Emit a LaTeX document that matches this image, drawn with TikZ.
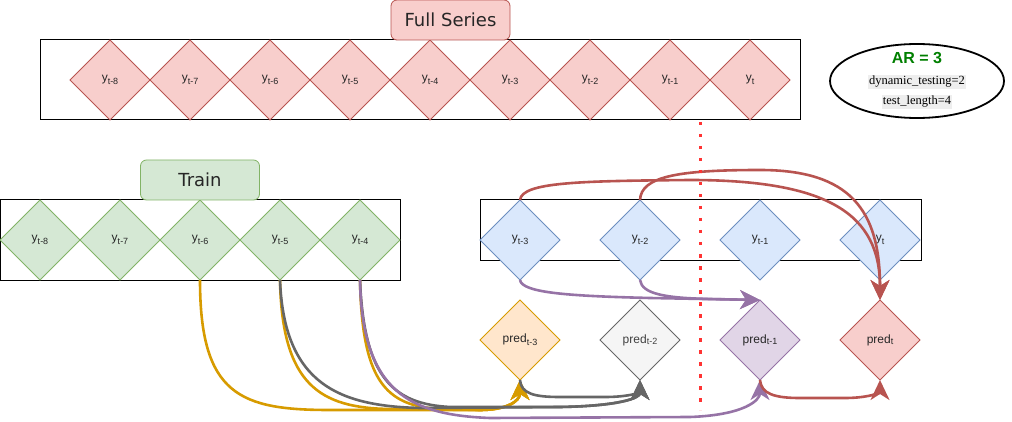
\documentclass[tikz,border=0pt]{standalone}
\usepackage{fontspec}
\setmainfont{Liberation Sans}
\newfontfamily\serifx{Liberation Serif}
\newfontfamily\labfont{DejaVu Sans}
\usetikzlibrary{shapes.geometric,arrows.meta}
\definecolor{rfill}{HTML}{F8CECC}\definecolor{rdraw}{HTML}{B85450}
\definecolor{gfill}{HTML}{D5E8D4}\definecolor{gdraw}{HTML}{82B366}
\definecolor{bfill}{HTML}{DAE8FC}\definecolor{bdraw}{HTML}{6C8EBF}
\definecolor{ofill}{HTML}{FFE6CC}\definecolor{odraw}{HTML}{D79B00}
\definecolor{kfill}{HTML}{F5F5F5}\definecolor{kdraw}{HTML}{666666}
\definecolor{pfill}{HTML}{E1D5E7}\definecolor{pdraw}{HTML}{9673A6}
\definecolor{dotred}{HTML}{FF3333}
\definecolor{argreen}{HTML}{007F00}
\definecolor{txtbg}{HTML}{EEEEEE}
\newcommand{\ylab}[1]{y\raisebox{-0.45ex}{\fontsize{9}{9}\selectfont #1}}
\newcommand{\plab}[2]{pred\raisebox{#2}{\fontsize{9}{9}\selectfont #1}}
\tikzset{
  dia/.style={diamond, aspect=1, minimum width=80pt, minimum height=80pt, inner sep=0pt, outer sep=0pt, line width=0.8pt, font=\fontsize{12}{12}\selectfont, text=black!85},
  rdia/.style={dia, fill=rfill, draw=rdraw},
  gdia/.style={dia, fill=gfill, draw=gdraw},
  bdia/.style={dia, fill=bfill, draw=bdraw},
  odia/.style={dia, fill=ofill, draw=odraw},
  kdia/.style={dia, fill=kfill, draw=kdraw, text=black!75},
  pdia/.style={dia, fill=pfill, draw=pdraw},
  frame/.style={draw=black, line width=1pt, fill=white, anchor=north west, inner sep=0pt, outer sep=0pt},
  tag/.style={rectangle, rounded corners=6pt, minimum width=119pt, minimum height=40pt, line width=0.8pt, font=\labfont\fontsize{18}{18}\selectfont, text=black!85},
  conn/.style={line width=2.6pt, -{Stealth[length=20pt,width=19pt,inset=6pt]}},
  oc/.style={conn, draw=odraw},
  gc/.style={conn, draw=kdraw},
  pc/.style={conn, draw=pdraw},
  rc/.style={conn, draw=rdraw},
  dotline/.style={draw=dotred, line width=3pt, dash pattern=on 3.5pt off 8.5pt},
  info/.style={font=\serifx\fontsize{12.5}{12.5}\selectfont, fill=txtbg, inner sep=1pt}
}
\begin{document}
\begin{tikzpicture}[x=1pt,y=-1pt]
\useasboundingbox (0,0) rectangle (1012,422);
% frames
\node[frame, minimum width=760pt, minimum height=80pt] (fullbox) at (40,40) {};
\node[frame, minimum width=400pt, minimum height=80pt] (trainbox) at (0,200) {};
\node[frame, minimum width=441pt, minimum height=60pt] (testbox) at (480,200) {};
% full series
\node[rdia] (f8) at (110,80) {\ylab{t-8}};
\node[rdia] (f7) at (190,80) {\ylab{t-7}};
\node[rdia] (f6) at (270,80) {\ylab{t-6}};
\node[rdia] (f5) at (350,80) {\ylab{t-5}};
\node[rdia] (f4) at (430,80) {\ylab{t-4}};
\node[rdia] (f3) at (510,80) {\ylab{t-3}};
\node[rdia] (f2) at (590,80) {\ylab{t-2}};
\node[rdia] (f1) at (670,80) {\ylab{t-1}};
\node[rdia] (f0) at (750,80) {\ylab{t}};
\node[tag, fill=rfill, draw=rdraw] (fs) at (450.5,20) {Full Series};
% train
\node[gdia] (g8) at (40,240) {\ylab{t-8}};
\node[gdia] (g7) at (120,240) {\ylab{t-7}};
\node[gdia] (g6) at (200,240) {\ylab{t-6}};
\node[gdia] (g5) at (280,240) {\ylab{t-5}};
\node[gdia] (g4) at (360,240) {\ylab{t-4}};
\node[tag, fill=gfill, draw=gdraw] (tr) at (200,180) {Train};
% test
\node[bdia] (b3) at (520,240) {\ylab{t-3}};
\node[bdia] (b2) at (640,240) {\ylab{t-2}};
\node[bdia] (b1) at (760,240) {\ylab{t-1}};
\node[bdia] (b0) at (880,240) {\ylab{t}};
% predictions
\node[odia] (p3) at (520,340) {\plab{t-3}{-0.45ex}};
\node[kdia] (p2) at (640,340) {\plab{t-2}{-0.15ex}};
\node[pdia] (p1) at (760,340) {\plab{t-1}{-0.15ex}};
\node[rdia] (p0) at (880,340) {\plab{t}{-0.15ex}};
% info ellipse
\node[ellipse, draw=black, line width=1.8pt, minimum width=174pt, minimum height=74pt] (ar) at (917,81) {};
\node[font=\bfseries\fontsize{16}{16}\selectfont, text=argreen] (art) at (917,58) {AR = 3};
\node[info] (dt) at (917,82) {dynamic\_testing=2};
\node[info] (tl) at (917,102) {test\_length=4};
% orange connectors
\draw[oc] (g6.south) .. controls (200,395) and (240,410) .. (330,410) -- (480,410) .. controls (505,410) and (520,402) .. (p3.south);
\draw[oc] (g5.south) .. controls (282,385) and (320,408) .. (390,409) -- (480,410) .. controls (505,410) and (520,402) .. (p3.south);
\draw[oc] (g4.south) .. controls (362,380) and (385,406) .. (440,409) -- (480,410) .. controls (505,410) and (520,402) .. (p3.south);
% grey connectors
\draw[gc] (g5.south) .. controls (284,385) and (340,406) .. (420,408) -- (560,407) .. controls (620,406) and (640,398) .. (p2.south);
\draw[gc] (g4.south) .. controls (364,380) and (395,404) .. (450,407) -- (560,407) .. controls (620,406) and (640,398) .. (p2.south);
\draw[gc] (p3.south) .. controls (521,394) and (535,397) .. (560,397) -- (605,397) .. controls (630,397) and (640,392) .. (p2.south);
% purple connectors
\draw[pc] (g4.south) .. controls (362,392) and (410,415) .. (490,418) -- (690,417) .. controls (745,415) and (760,400) .. (p1.south);
\draw[pc] (b3.south) .. controls (522,293) and (570,296) .. (650,298) -- (p1.north);
\draw[pc] (b2.south) .. controls (642,294) and (665,298) .. (710,299) -- (p1.north);
% red connectors
\draw[rc] (b3.north) .. controls (522,182) and (580,181) .. (690,180) .. controls (830,180) and (880,215) .. (p0.north);
\draw[rc] (b2.north) .. controls (641,176) and (680,170) .. (760,170) .. controls (850,170) and (880,210) .. (p0.north);
\draw[rc] (p1.south) .. controls (761,394) and (775,398) .. (800,398) -- (845,398) .. controls (870,398) and (880,392) .. (p0.south);
% split line
\coordinate (dtop) at (700,122);
\coordinate (dbot) at (700,410);
\draw[dotline] (dtop) -- (dbot);
\end{tikzpicture}
\end{document}
